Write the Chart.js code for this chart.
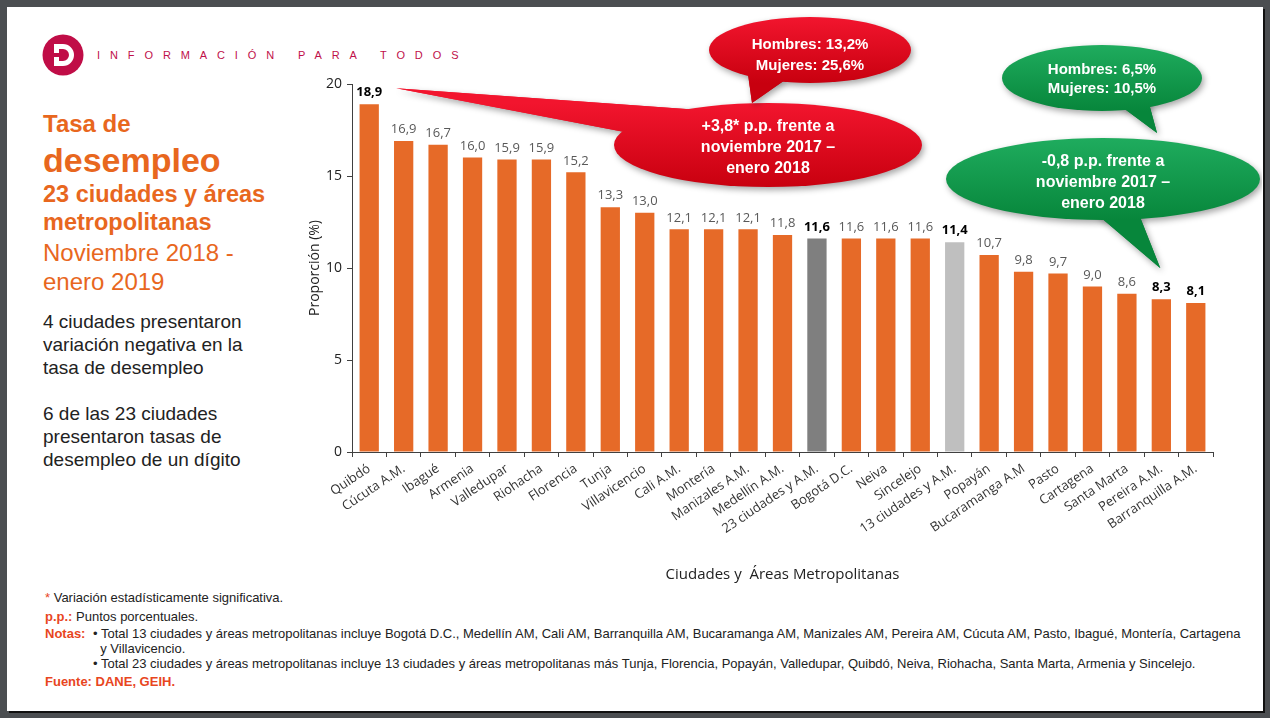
<!DOCTYPE html>
<html lang="es">
<head>
<meta charset="utf-8">
<title>Tasa de desempleo 23 ciudades</title>
<script src="https://cdn.jsdelivr.net/npm/chart.js@4.4.0/dist/chart.umd.min.js"></script>
<style>
  body { margin: 0; width: 1270px; height: 718px; background: #4b4e51; overflow: hidden; position: relative; font-family: "Liberation Sans", Arial, sans-serif; }
  #slide { position: absolute; left: 7px; top: 7px; width: 1256px; height: 704px; background: #fff; box-shadow: 2px 2px 0 #111; }
  .abs { position: absolute; white-space: nowrap; }
  .naranja { color: #e8671e; }
  .izq { left: 43px; }
  .negro { color: #222; font-size: 19px; line-height: 23px; }
  #marca { left: 97px; top: 49px; font-size: 11px; letter-spacing: 9.9px; word-spacing: 1px; color: #c0104a; }
  .nota { font-family: "Liberation Sans Narrow", "Arial Narrow", "Liberation Sans", sans-serif; font-size: 13px; line-height: 15px; color: #222; }
  .rojo { color: #e8461e; font-weight: bold; }
  #grafico { position: absolute; left: 280px; top: 10px; width: 982px; height: 580px; }
</style>
</head>
<body>
<div id="slide"></div>

<svg class="abs" style="left:42px;top:34px" width="42" height="42" viewBox="0 0 42 42">
  <circle cx="21" cy="21" r="20.5" fill="#c00d47"/>
  <path d="M12 10 H21 A11 11 0 0 1 21 32 H12 Z M17 15 V27 H21 A6 6 0 0 0 21 15 Z" fill="#fff"/>
  <rect x="9" y="19" width="10" height="4" fill="#c00d47"/>
</svg>
<div id="marca" class="abs">INFORMACIÓN PARA TODOS</div>

<div class="abs izq naranja" style="top:109px;font-size:24px;font-weight:bold;line-height:30px">Tasa de</div>
<div class="abs izq naranja" style="top:139px;font-size:34px;font-weight:bold;line-height:42px">desempleo</div>
<div class="abs izq naranja" style="top:180px;font-size:23.5px;font-weight:bold;line-height:28px">23 ciudades y áreas<br>metropolitanas</div>
<div class="abs izq naranja" style="top:238px;font-size:24px;line-height:29px">Noviembre 2018 -<br>enero 2019</div>
<div class="abs izq negro" style="top:310px">4 ciudades presentaron<br>variación negativa en la<br>tasa de desempleo</div>
<div class="abs izq negro" style="top:402px">6 de las 23 ciudades<br>presentaron tasas de<br>desempleo de un dígito</div>

<div id="grafico"><canvas id="tasaChart"></canvas></div>

<div class="abs nota" style="left:45px;top:590px"><span style="color:#e8461e">*</span> Variación estadísticamente significativa.</div>
<div class="abs nota" style="left:45px;top:609px"><span class="rojo">p.p.:</span> Puntos porcentuales.</div>
<div class="abs nota" style="left:45px;top:626px"><span class="rojo">Notas:</span></div>
<div class="abs nota" style="left:93px;top:626px">• Total 13 ciudades y áreas metropolitanas incluye Bogotá D.C., Medellín AM, Cali AM, Barranquilla AM, Bucaramanga AM, Manizales AM, Pereira AM, Cúcuta AM, Pasto, Ibagué, Montería, Cartagena<br>&nbsp;&nbsp;y Villavicencio.</div>
<div class="abs nota" style="left:93px;top:656px">• Total 23 ciudades y áreas metropolitanas incluye 13 ciudades y áreas metropolitanas más Tunja, Florencia, Popayán, Valledupar, Quibdó, Neiva, Riohacha, Santa Marta, Armenia y Sincelejo.</div>
<div class="abs nota rojo" style="left:45px;top:674px">Fuente: DANE, GEIH.</div>

<script>
const ciudades = ['Quibdó', 'Cúcuta A.M.', 'Ibagué', 'Armenia', 'Valledupar', 'Riohacha', 'Florencia', 'Tunja',
  'Villavicencio', 'Cali A.M.', 'Montería', 'Manizales A.M.', 'Medellín A.M.', '23 ciudades y A.M.', 'Bogotá D.C.',
  'Neiva', 'Sincelejo', '13 ciudades y A.M.', 'Popayán', 'Bucaramanga A.M', 'Pasto', 'Cartagena', 'Santa Marta',
  'Pereira A.M.', 'Barranquilla A.M.'];
const tasas = [18.9, 16.9, 16.7, 16.0, 15.9, 15.9, 15.2, 13.3, 13.0, 12.1, 12.1, 12.1, 11.8, 11.6, 11.6,
  11.6, 11.6, 11.4, 10.7, 9.8, 9.7, 9.0, 8.6, 8.3, 8.1];
const ejeY = [0, 5, 10, 15, 20];
const etiquetasNegrita = ['Quibdó', '23 ciudades y A.M.', '13 ciudades y A.M.', 'Pereira A.M.', 'Barranquilla A.M.'];

const coloresBarra = ciudades.map(c => c === '23 ciudades y A.M.' ? '#7f7f7f' : c === '13 ciudades y A.M.' ? '#bfbfbf' : '#e66a28');

function fmt(v) { return v.toFixed(1).replace('.', ','); }

// etiquetas de valor encima de cada barra
const etiquetasPlugin = {
  id: 'etiquetas',
  afterDatasetsDraw(chart) {
    const ctx = chart.ctx;
    const meta = chart.getDatasetMeta(0);
    ctx.save();
    ctx.textAlign = 'center';
    ctx.textBaseline = 'bottom';
    meta.data.forEach((bar, i) => {
      const negrita = etiquetasNegrita.includes(ciudades[i]);
      ctx.font = (negrita ? 'bold ' : '') + '13px "Open Sans"';
      ctx.fillStyle = negrita ? '#000' : '#595959';
      ctx.fillText(fmt(tasas[i]), bar.x, bar.y - 5);
    });
    ctx.restore();
  }
};

function burbuja(ctx, b) {
  ctx.save();
  const g = ctx.createLinearGradient(0, b.cy - b.ry, 0, b.cy + b.ry);
  g.addColorStop(0, b.c1);
  g.addColorStop(1, b.c2);
  ctx.shadowColor = 'rgba(0,0,0,0.35)';
  ctx.shadowBlur = 6;
  ctx.shadowOffsetX = 2;
  ctx.shadowOffsetY = 3;
  ctx.fillStyle = g;
  ctx.beginPath();
  ctx.moveTo(b.base[0][0], b.base[0][1]);
  ctx.lineTo(b.tip[0], b.tip[1]);
  ctx.lineTo(b.base[1][0], b.base[1][1]);
  ctx.closePath();
  ctx.fill();
  ctx.beginPath();
  ctx.ellipse(b.cx, b.cy, b.rx, b.ry, 0, 0, Math.PI * 2);
  ctx.fill();
  ctx.shadowColor = 'transparent';
  // la cola otra vez encima del borde de la elipse
  ctx.beginPath();
  ctx.moveTo(b.base[0][0], b.base[0][1]);
  ctx.lineTo(b.tip[0], b.tip[1]);
  ctx.lineTo(b.base[1][0], b.base[1][1]);
  ctx.closePath();
  ctx.fill();
  ctx.fillStyle = '#fff';
  ctx.font = 'bold ' + b.size + 'px "Liberation Sans", Arial';
  ctx.textAlign = 'center';
  ctx.textBaseline = 'middle';
  b.lines.forEach((t, i) => ctx.fillText(t, b.tx, b.ty + i * b.gap));
  ctx.restore();
}

const burbujasPlugin = {
  id: 'burbujas',
  afterDraw(chart) {
    const ctx = chart.ctx;
    const barras = chart.getDatasetMeta(0).data;
    const q = barras[ciudades.indexOf('Quibdó')];
    const p = barras[ciudades.indexOf('Pereira A.M.')];
    const rojo = ['#f2152e', '#c8000f'];
    const verde = ['#1fac5e', '#07863b'];
    burbuja(ctx, { cx: 488, cy: 135, rx: 154, ry: 42, base: [[420, 100], [355, 124]], tip: [q.x + 27, q.y - 16],
      c1: rojo[0], c2: rojo[1], lines: ['+3,8* p.p. frente a', 'noviembre 2017 –', 'enero 2018'], size: 16, tx: 488, ty: 117, gap: 21 });
    burbuja(ctx, { cx: 530, cy: 40, rx: 101, ry: 33, base: [[468, 64], [505, 70]], tip: [472, 93],
      c1: rojo[0], c2: rojo[1], lines: ['Hombres: 13,2%', 'Mujeres: 25,6%'], size: 15, tx: 530, ty: 35, gap: 21 });
    burbuja(ctx, { cx: 823, cy: 169, rx: 157, ry: 41, base: [[812, 200], [858, 202]], tip: [p.x - 1, p.y - 31],
      c1: verde[0], c2: verde[1], lines: ['-0,8 p.p. frente a', 'noviembre 2017 –', 'enero 2018'], size: 16, tx: 823, ty: 152, gap: 21 });
    burbuja(ctx, { cx: 822, cy: 68, rx: 100, ry: 33, base: [[838, 94], [868, 90]], tip: [877, 123],
      c1: verde[0], c2: verde[1], lines: ['Hombres: 6,5%', 'Mujeres: 10,5%'], size: 15, tx: 822, ty: 60, gap: 19 });
  }
};

new Chart(document.getElementById('tasaChart'), {
  type: 'bar',
  data: {
    labels: ciudades,
    datasets: [{
      data: tasas,
      backgroundColor: coloresBarra,
      barPercentage: 0.56,
      categoryPercentage: 1
    }]
  },
  options: {
    responsive: true,
    maintainAspectRatio: false,
    animation: false,
    layout: { padding: { left: 0, top: 74, right: 49, bottom: 0 } },
    plugins: { legend: { display: false }, tooltip: { enabled: false } },
    scales: {
      x: {
        grid: { drawOnChartArea: false, tickLength: 5, color: '#404040', offset: true },
        border: { color: '#404040' },
        ticks: { color: '#333', font: { family: 'Open Sans', size: 13 }, minRotation: 34, maxRotation: 34, padding: 4, autoSkip: false },
        title: { display: true, text: 'Ciudades y  Áreas Metropolitanas', color: '#222', font: { family: 'Open Sans', size: 15 }, padding: { top: 0, bottom: 6 } },
        afterFit(s) { s.height = 138; }
      },
      y: {
        min: 0,
        max: 20,
        afterBuildTicks(s) { s.ticks = ejeY.map(v => ({ value: v })); },
        grid: { drawOnChartArea: false, tickLength: 5, color: '#404040' },
        border: { color: '#404040' },
        ticks: { color: '#222', font: { family: 'Open Sans', size: 14 }, padding: 5 },
        title: { display: true, text: 'Proporción (%)', color: '#222', font: { family: 'Open Sans', size: 14 }, padding: { top: 27 } },
        afterFit(s) { s.width = 72; }
      }
    }
  },
  plugins: [etiquetasPlugin, burbujasPlugin]
});
</script>
</body>
</html>
